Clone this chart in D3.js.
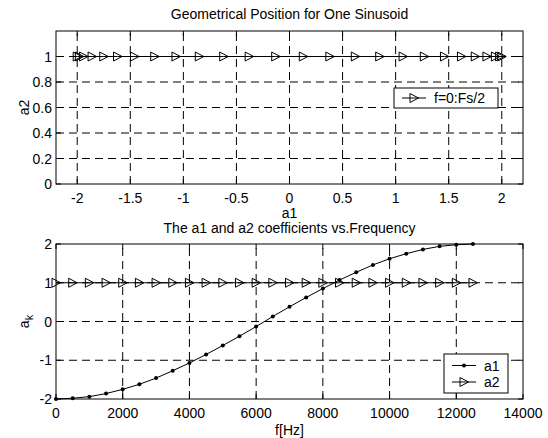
<!DOCTYPE html>
<html>
<head>
<meta charset="utf-8">
<script src="https://cdnjs.cloudflare.com/ajax/libs/d3/7.8.5/d3.min.js"></script>
<style>
    body { margin: 0; background: #fff; }
    svg text { font-family: "Liberation Sans", Arial, sans-serif; font-size: 14px; fill: #000; }
</style>
</head>
<body>
<div id="chart"></div>
<script>
// Frequencies (Hz) of the samples
var freq = [0, 500, 1000, 1500, 2000, 2500, 3000, 3500, 4000, 4500, 5000, 5500, 6000,
    6500, 7000, 7500, 8000, 8500, 9000, 9500, 10000, 10500, 11000, 11500, 12000, 12500];

// a1 coefficient
var a1 = [-2.00, -1.98, -1.94, -1.86, -1.75, -1.62, -1.46, -1.27, -1.07, -0.85, -0.62, -0.38, -0.13,
    0.13, 0.38, 0.62, 0.85, 1.07, 1.27, 1.46, 1.62, 1.75, 1.86, 1.94, 1.98, 2.00];

// a2 coefficient (constant)
var a2 = [1, 1, 1, 1, 1, 1, 1, 1, 1, 1, 1, 1, 1, 1, 1, 1, 1, 1, 1, 1, 1, 1, 1, 1, 1, 1];

// Tick values
var topXTicks = [-2, -1.5, -1, -0.5, 0, 0.5, 1, 1.5, 2];
var topYTicks = [0, 0.2, 0.4, 0.6, 0.8, 1];
var botXTicks = [0, 2000, 4000, 6000, 8000, 10000, 12000, 14000];
var botYTicks = [-2, -1, 0, 1, 2];

var W = 548, H = 438;
var left = 56, right = 523;

var svg = d3.select("#chart")
    .append("svg")
    .attr("width", W)
    .attr("height", H);

// triangle pointing right, centered on the point
var triPath = "M-4,-4.5L-4,4.5L4.5,0Z";

function drawAxes(g, x, y, xTicks, yTicks) {
    var x0 = x.range()[0], x1 = x.range()[1];
    var y0 = y.range()[0], y1 = y.range()[1];

    // dashed grid (drawn from bottom / left so the dash pattern starts at the box)
    g.selectAll(".vgrid")
        .data(xTicks.filter(function (d) { return x(d) > x0 + 1 && x(d) < x1 - 1; }))
        .enter().append("line")
        .attr("x1", function (d) { return x(d); })
        .attr("x2", function (d) { return x(d); })
        .attr("y1", y0)
        .attr("y2", y1)
        .style("stroke", "#000")
        .style("stroke-dasharray", "8,5");

    g.selectAll(".hgrid")
        .data(yTicks.filter(function (d) { return y(d) < y0 - 1 && y(d) > y1 + 1; }))
        .enter().append("line")
        .attr("x1", x0)
        .attr("x2", x1)
        .attr("y1", function (d) { return y(d); })
        .attr("y2", function (d) { return y(d); })
        .style("stroke", "#000")
        .style("stroke-dasharray", "8,5");

    // box
    g.append("rect")
        .attr("x", x0)
        .attr("y", y1)
        .attr("width", x1 - x0)
        .attr("height", y0 - y1)
        .style("fill", "none")
        .style("stroke", "#000");

    // inward ticks, all four sides
    xTicks.forEach(function (d) {
        g.append("line").attr("x1", x(d)).attr("x2", x(d)).attr("y1", y0).attr("y2", y0 - 5).style("stroke", "#000");
        g.append("line").attr("x1", x(d)).attr("x2", x(d)).attr("y1", y1).attr("y2", y1 + 5).style("stroke", "#000");
    });
    yTicks.forEach(function (d) {
        g.append("line").attr("x1", x0).attr("x2", x0 + 5).attr("y1", y(d)).attr("y2", y(d)).style("stroke", "#000");
        g.append("line").attr("x1", x1).attr("x2", x1 - 5).attr("y1", y(d)).attr("y2", y(d)).style("stroke", "#000");
    });

    // tick labels
    g.selectAll(".xlab")
        .data(xTicks)
        .enter().append("text")
        .attr("x", function (d) { return x(d); })
        .attr("y", y0 + 19)
        .attr("text-anchor", "middle")
        .text(function (d) { return String(d); });

    g.selectAll(".ylab")
        .data(yTicks)
        .enter().append("text")
        .attr("x", x0 - 4)
        .attr("y", function (d) { return y(d); })
        .attr("dy", "0.36em")
        .attr("text-anchor", "end")
        .text(function (d) { return String(d); });
}

// ---------------- Top plot: a2 vs a1 ----------------
var xTop = d3.scaleLinear().domain([-2.2, 2.2]).range([left, right]);
var yTop = d3.scaleLinear().domain([0, 1.2]).range([184, 31]);
var gTop = svg.append("g");

drawAxes(gTop, xTop, yTop, topXTicks, topYTicks);

var pts = a1.map(function (d, i) { return { x: d, y: a2[i] }; });

gTop.append("path")
    .datum(pts)
    .attr("d", d3.line().x(function (d) { return xTop(d.x); }).y(function (d) { return yTop(d.y); }))
    .style("fill", "none")
    .style("stroke", "#000");

gTop.selectAll(".tri")
    .data(pts)
    .enter().append("path")
    .attr("d", triPath)
    .attr("transform", function (d) { return "translate(" + xTop(d.x) + "," + yTop(d.y) + ")"; })
    .style("fill", "none")
    .style("stroke", "#000");

gTop.append("text")
    .attr("x", (left + right) / 2)
    .attr("y", 31 - 12)
    .attr("text-anchor", "middle")
    .text("Geometrical Position for One Sinusoid");

gTop.append("text")
    .attr("x", (left + right) / 2)
    .attr("y", 184 + 34)
    .attr("text-anchor", "middle")
    .text("a1");

gTop.append("text")
    .attr("transform", "translate(29," + (184 + 31) / 2 + ") rotate(-90)")
    .attr("text-anchor", "middle")
    .text("a2");

// legend
var lgTop = gTop.append("g");
lgTop.append("rect")
    .attr("x", 394).attr("y", 88).attr("width", 104).attr("height", 20)
    .style("fill", "#fff").style("stroke", "#000");
lgTop.append("line")
    .attr("x1", 402).attr("x2", 426).attr("y1", 98).attr("y2", 98)
    .style("stroke", "#000");
lgTop.append("path")
    .attr("d", triPath)
    .attr("transform", "translate(414,98)")
    .style("fill", "none").style("stroke", "#000");
lgTop.append("text")
    .attr("x", 434).attr("y", 98).attr("dy", "0.36em")
    .text("f=0:Fs/2");

// ---------------- Bottom plot: a1, a2 vs frequency ----------------
var xBot = d3.scaleLinear().domain([0, 14000]).range([left, right]);
var yBot = d3.scaleLinear().domain([-2, 2]).range([399, 244]);
var gBot = svg.append("g");

drawAxes(gBot, xBot, yBot, botXTicks, botYTicks);

var lineF = d3.line()
    .x(function (d, i) { return xBot(freq[i]); })
    .y(function (d) { return yBot(d); });

gBot.append("path")
    .datum(a1)
    .attr("d", lineF)
    .style("fill", "none")
    .style("stroke", "#000");

gBot.selectAll(".dot")
    .data(a1)
    .enter().append("circle")
    .attr("cx", function (d, i) { return xBot(freq[i]); })
    .attr("cy", function (d) { return yBot(d); })
    .attr("r", 2)
    .style("fill", "#000");

gBot.append("path")
    .datum(a2)
    .attr("d", lineF)
    .style("fill", "none")
    .style("stroke", "#000");

gBot.selectAll(".tri")
    .data(a2)
    .enter().append("path")
    .attr("d", triPath)
    .attr("transform", function (d, i) { return "translate(" + xBot(freq[i]) + "," + yBot(d) + ")"; })
    .style("fill", "none")
    .style("stroke", "#000");

gBot.append("text")
    .attr("x", (left + right) / 2)
    .attr("y", 244 - 11.5)
    .attr("text-anchor", "middle")
    .text("The a1 and a2 coefficients vs.Frequency");

gBot.append("text")
    .attr("x", (left + right) / 2)
    .attr("y", 399 + 36)
    .attr("text-anchor", "middle")
    .text("f[Hz]");

var ak = gBot.append("text")
    .attr("transform", "translate(29," + (399 + 244) / 2 + ") rotate(-90)")
    .attr("text-anchor", "middle");
ak.append("tspan").text("a");
ak.append("tspan").attr("dy", 4).style("font-size", "11px").text("k");

// legend
var lgBot = gBot.append("g");
lgBot.append("rect")
    .attr("x", 444).attr("y", 354).attr("width", 64).attr("height", 39)
    .style("fill", "#fff").style("stroke", "#000");
lgBot.append("line")
    .attr("x1", 452).attr("x2", 476).attr("y1", 365.5).attr("y2", 365.5)
    .style("stroke", "#000");
lgBot.append("circle")
    .attr("cx", 464).attr("cy", 365.5).attr("r", 2)
    .style("fill", "#000");
lgBot.append("text")
    .attr("x", 484).attr("y", 365.5).attr("dy", "0.36em")
    .text("a1");
lgBot.append("line")
    .attr("x1", 452).attr("x2", 476).attr("y1", 382).attr("y2", 382)
    .style("stroke", "#000");
lgBot.append("path")
    .attr("d", triPath)
    .attr("transform", "translate(464,382)")
    .style("fill", "none").style("stroke", "#000");
lgBot.append("text")
    .attr("x", 484).attr("y", 382).attr("dy", "0.36em")
    .text("a2");
</script>
</body>
</html>
